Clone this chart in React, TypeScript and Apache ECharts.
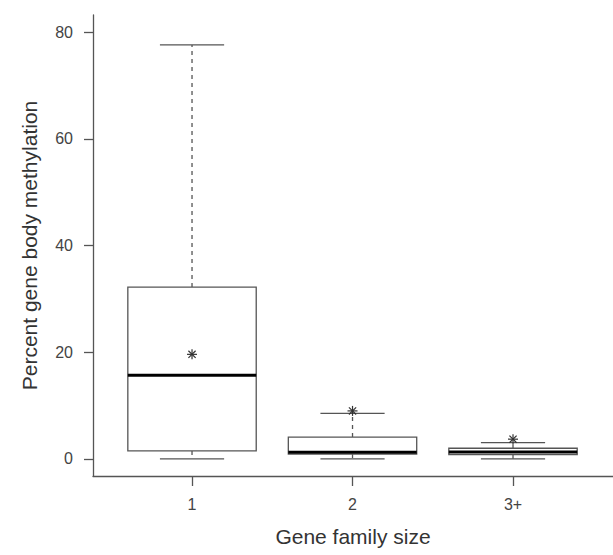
import React, { useEffect, useRef } from "react";
import * as echarts from "echarts";

// Categories and their positions on the x axis
const categories = ["1", "2", "3+"];
const xPositions = [1, 2, 3];

// Box plot statistics (percent gene body methylation)
const whiskerLow = [0, 0, 0];
const q1Values = [1.5, 0.9, 0.8];
const medianValues = [15.7, 1.25, 1.3];
const q3Values = [32.2, 4.1, 2.0];
const whiskerHigh = [77.6, 8.55, 3.05];
const meanValues = [19.6, 9.0, 3.7];

// Y axis tick values
const yTicks = [0, 20, 40, 60, 80];

const FONT = "'Liberation Sans', Arial, Helvetica, sans-serif";
const LINE = "#555555";
const TEXT = "#444444";

export default function App() {
  const ref = useRef<HTMLDivElement>(null);

  useEffect(() => {
    if (!ref.current) return;
    const chart = echarts.init(ref.current, undefined, { renderer: "svg" });

    const data = xPositions.map((x, i) => [
      x,
      whiskerLow[i],
      q1Values[i],
      medianValues[i],
      q3Values[i],
      whiskerHigh[i],
      meanValues[i],
    ]);

    const renderItem = (params: any, api: any) => {
      const x = api.value(0);
      const pMin = api.coord([x, api.value(1)]);
      const pQ1 = api.coord([x, api.value(2)]);
      const pMed = api.coord([x, api.value(3)]);
      const pQ3 = api.coord([x, api.value(4)]);
      const pMax = api.coord([x, api.value(5)]);
      const pMean = api.coord([x, api.value(6)]);
      const cx = pMed[0];
      const halfBox = api.size([0.4, 0])[0];
      const halfCap = api.size([0.2, 0])[0];
      const lineStyle = { stroke: LINE, lineWidth: 1.3, fill: null };
      const dashStyle = { stroke: LINE, lineWidth: 1.3, lineDash: [4, 4], fill: null };
      const starStyle = { stroke: "#333333", lineWidth: 1.2, fill: null };
      const s = 5;
      const d = 3.6;
      return {
        type: "group",
        children: [
          { type: "line", shape: { x1: cx, y1: pQ3[1], x2: cx, y2: pMax[1] }, style: dashStyle },
          { type: "line", shape: { x1: cx, y1: pQ1[1], x2: cx, y2: pMin[1] }, style: dashStyle },
          { type: "line", shape: { x1: cx - halfCap, y1: pMax[1], x2: cx + halfCap, y2: pMax[1] }, style: lineStyle },
          { type: "line", shape: { x1: cx - halfCap, y1: pMin[1], x2: cx + halfCap, y2: pMin[1] }, style: lineStyle },
          {
            type: "rect",
            shape: { x: cx - halfBox, y: pQ3[1], width: halfBox * 2, height: pQ1[1] - pQ3[1] },
            style: { stroke: LINE, lineWidth: 1.3, fill: "#ffffff" },
          },
          {
            type: "line",
            shape: { x1: cx - halfBox, y1: pMed[1], x2: cx + halfBox, y2: pMed[1] },
            style: { stroke: "#000000", lineWidth: 3 },
          },
          { type: "line", shape: { x1: pMean[0] - s, y1: pMean[1], x2: pMean[0] + s, y2: pMean[1] }, style: starStyle },
          { type: "line", shape: { x1: pMean[0], y1: pMean[1] - s, x2: pMean[0], y2: pMean[1] + s }, style: starStyle },
          { type: "line", shape: { x1: pMean[0] - d, y1: pMean[1] - d, x2: pMean[0] + d, y2: pMean[1] + d }, style: starStyle },
          { type: "line", shape: { x1: pMean[0] - d, y1: pMean[1] + d, x2: pMean[0] + d, y2: pMean[1] - d }, style: starStyle },
        ],
      };
    };

    chart.setOption({
      animation: false,
      backgroundColor: "#ffffff",
      grid: { left: 93, top: 15, right: 0, bottom: 79, containLabel: false },
      xAxis: {
        type: "value",
        min: 0.383,
        max: 3.623,
        name: "Gene family size",
        nameLocation: "middle",
        nameGap: 50,
        nameTextStyle: { fontFamily: FONT, fontSize: 21, color: "#333333" },
        axisLine: { show: true, onZero: false, lineStyle: { color: LINE, width: 1.3 } },
        axisTick: { show: true, length: 10, customValues: xPositions, lineStyle: { color: LINE, width: 1.3 } },
        axisLabel: {
          customValues: xPositions,
          margin: 20,
          fontFamily: FONT,
          fontSize: 16,
          color: TEXT,
          formatter: (v: number) => {
            const idx = xPositions.indexOf(Math.round(v));
            return idx >= 0 ? categories[idx] : "";
          },
        },
        splitLine: { show: false },
      },
      yAxis: {
        type: "value",
        min: -3.2,
        max: 83.2,
        name: "Percent gene body methylation",
        nameLocation: "middle",
        nameGap: 53,
        nameTextStyle: { fontFamily: FONT, fontSize: 21, color: "#333333" },
        axisLine: { show: true, onZero: false, lineStyle: { color: LINE, width: 1.3 } },
        axisTick: { show: true, length: 9, customValues: yTicks, lineStyle: { color: LINE, width: 1.3 } },
        axisLabel: {
          customValues: yTicks,
          margin: 20,
          fontFamily: FONT,
          fontSize: 16,
          color: TEXT,
        },
        splitLine: { show: false },
      },
      series: [
        {
          type: "custom",
          renderItem,
          data,
          encode: { x: 0, y: [1, 2, 3, 4, 5, 6] },
          clip: false,
        },
      ],
    });

    return () => {
      chart.dispose();
    };
  }, []);

  return (
    <div
      ref={ref}
      style={{ position: "fixed", left: 0, top: 0, width: 613, height: 555, background: "#fff" }}
    />
  );
}
